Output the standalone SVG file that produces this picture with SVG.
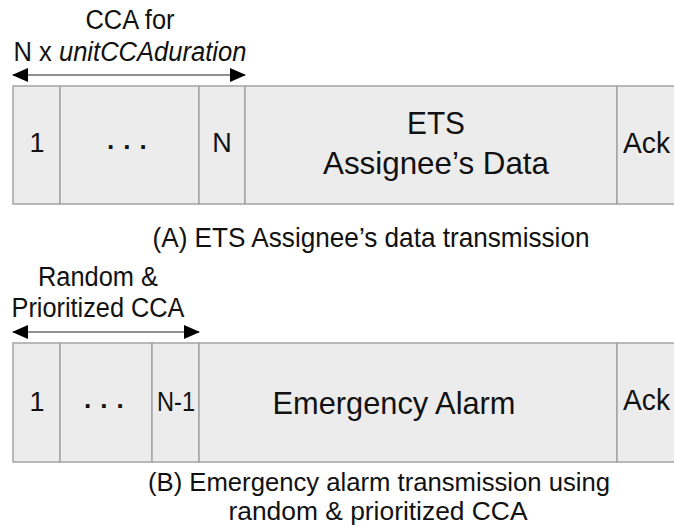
<svg xmlns="http://www.w3.org/2000/svg" width="674" height="527" viewBox="0 0 674 527">
  <style>
    text { font-family: "Liberation Sans", Arial, sans-serif; fill: #111; }
    .cell { fill: #ececec; stroke: #a4a4a4; stroke-width: 1.5; }
    .lbl { font-size: 27px; text-anchor: middle; }
    .num { font-size: 27px; text-anchor: middle; }
    .big { font-size: 32px; text-anchor: middle; }
    .cap { font-size: 28px; text-anchor: middle; }
    .cap2 { font-size: 25px; text-anchor: middle; }
    .ack { font-size: 30px; }
    .dim { stroke: #222; stroke-width: 1.2; fill: none; }
    .dots { font-size: 26px; font-weight: bold; letter-spacing: 9px; }
  </style>
  <defs>
    <marker id="head" viewBox="0 0 16 14" refX="15" refY="7" markerWidth="16" markerHeight="14" markerUnits="userSpaceOnUse" orient="auto-start-reverse">
      <path d="M0,0 L16,7 L0,14 Z" fill="#000"/>
    </marker>
  </defs>

  <!-- Frame A: ETS assignee's data transmission -->
  <g id="a-slot-1">
    <rect class="cell" x="13" y="86" width="47" height="118"/>
    <text class="num" x="37" y="152">1</text>
  </g>
  <g id="a-slot-dots">
    <rect class="cell" x="60" y="86" width="139" height="118"/>
    <text class="dots" x="107" y="149">...</text>
  </g>
  <g id="a-slot-n">
    <rect class="cell" x="199" y="86" width="46" height="118"/>
    <text class="num" x="222" y="152">N</text>
  </g>
  <g id="a-data">
    <rect class="cell" x="245" y="86" width="372" height="118"/>
    <text class="big" x="436" y="134" textLength="58" lengthAdjust="spacingAndGlyphs">ETS</text>
    <text class="big" x="436" y="174" textLength="226" lengthAdjust="spacingAndGlyphs">Assignee’s Data</text>
  </g>
  <g id="a-ack">
    <rect class="cell" x="617" y="86" width="70" height="118"/>
    <text class="ack" x="623" y="153" textLength="47" lengthAdjust="spacingAndGlyphs">Ack</text>
  </g>
  <g id="a-cca-label">
    <text class="lbl" x="130" y="29" textLength="89" lengthAdjust="spacingAndGlyphs">CCA for</text>
    <text class="lbl" x="130" y="61" textLength="233" lengthAdjust="spacingAndGlyphs">N x <tspan font-style="italic">unitCCAduration</tspan></text>
  </g>
  <g id="a-caption">
    <text class="cap" x="371" y="247" textLength="437" lengthAdjust="spacingAndGlyphs">(A) ETS Assignee’s data transmission</text>
  </g>

  <!-- Frame B: emergency alarm transmission -->
  <g id="b-slot-1">
    <rect class="cell" x="13" y="343" width="47" height="119"/>
    <text class="num" x="37" y="411">1</text>
  </g>
  <g id="b-slot-dots">
    <rect class="cell" x="60" y="343" width="92" height="119"/>
    <text class="dots" x="84" y="408">...</text>
  </g>
  <g id="b-slot-n1">
    <rect class="cell" x="152" y="343" width="47" height="119"/>
    <text class="num" x="176" y="411" textLength="38" lengthAdjust="spacingAndGlyphs">N-1</text>
  </g>
  <g id="b-alarm">
    <rect class="cell" x="199" y="343" width="418" height="119"/>
    <text class="big" x="394" y="414" textLength="243" lengthAdjust="spacingAndGlyphs">Emergency Alarm</text>
  </g>
  <g id="b-ack">
    <rect class="cell" x="617" y="343" width="70" height="119"/>
    <text class="ack" x="623" y="410" textLength="47" lengthAdjust="spacingAndGlyphs">Ack</text>
  </g>
  <g id="b-cca-label">
    <text class="lbl" x="98" y="286" textLength="120" lengthAdjust="spacingAndGlyphs">Random &amp;</text>
    <text class="lbl" x="98" y="317" textLength="173" lengthAdjust="spacingAndGlyphs">Prioritized CCA</text>
  </g>
  <g id="b-caption">
    <text class="cap2" x="379" y="491" textLength="462" lengthAdjust="spacingAndGlyphs">(B) Emergency alarm transmission using</text>
    <text class="cap2" x="378" y="520" textLength="299" lengthAdjust="spacingAndGlyphs">random &amp; prioritized CCA</text>
  </g>

  <!-- Duration arrows -->
  <g id="connectors">
    <line class="dim" x1="13" y1="75" x2="245" y2="75" marker-start="url(#head)" marker-end="url(#head)"/>
    <line class="dim" x1="13" y1="332" x2="199" y2="332" marker-start="url(#head)" marker-end="url(#head)"/>
  </g>
</svg>
